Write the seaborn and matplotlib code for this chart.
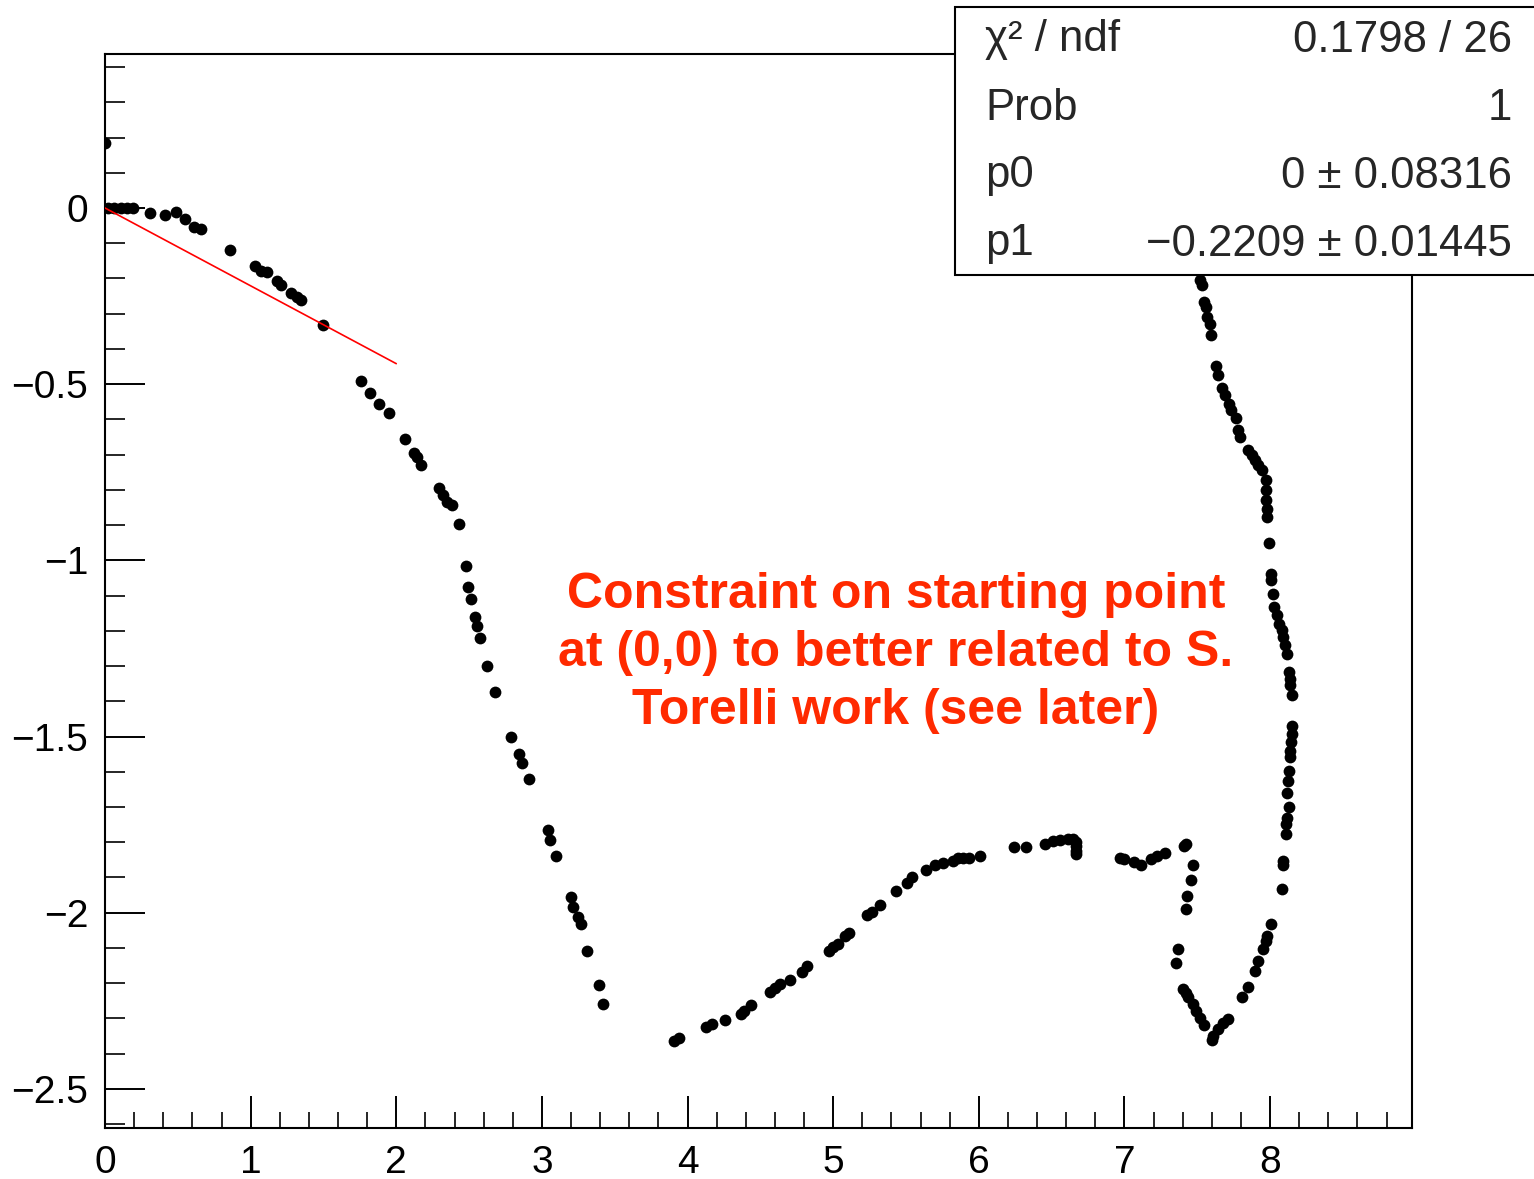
import numpy as np
import pandas as pd
import matplotlib
matplotlib.use("Agg")
import matplotlib.pyplot as plt
from matplotlib.patches import Rectangle
from matplotlib.ticker import MultipleLocator, FixedLocator, FixedFormatter
import seaborn as sns

# ---------------- data ----------------
x_vals = [0.0, 0.02, 0.06, 0.11, 0.15, 0.195, 0.31, 0.41, 0.485, 0.55, 0.61, 0.66, 0.855,
          1.03, 1.07, 1.11, 1.18, 1.21, 1.28, 1.32, 1.345, 1.5,
          1.756, 1.82, 1.884, 1.948, 2.06, 2.12, 2.145, 2.17, 2.296, 2.323, 2.35, 2.385, 2.43,
          2.477, 2.49, 2.51, 2.54, 2.557, 2.576, 2.62, 2.68,
          2.79, 2.846, 2.862, 2.912, 3.04, 3.056, 3.10, 3.20, 3.216, 3.246, 3.267, 3.313, 3.393, 3.42,
          3.91, 3.94, 4.13, 4.167, 4.26, 4.37, 4.39, 4.437,
          4.567, 4.60, 4.636, 4.705, 4.785, 4.82, 4.97, 5.0, 5.036, 5.08, 5.11, 5.23, 5.265, 5.32,
          5.43, 5.506, 5.54, 5.64, 5.70, 5.753, 5.826, 5.86, 5.895, 5.936, 6.01, 6.245, 6.325,
          6.456, 6.513, 6.56, 6.616, 6.65, 6.67, 6.67, 6.67, 6.665,
          6.97, 7.0, 7.063, 7.115, 7.18, 7.227, 7.28, 7.406, 7.424, 7.47, 7.456, 7.433, 7.42,
          7.37, 7.355, 7.4, 7.42, 7.44, 7.47, 7.49, 7.52, 7.55, 7.6, 7.61, 7.64, 7.68, 7.71,
          7.81, 7.85, 7.90, 7.92, 7.95, 7.97, 7.98, 8.01, 8.08, 8.09, 8.09, 8.11, 8.11, 8.12, 8.13,
          8.12, 8.125, 8.127, 8.138, 8.137, 8.145, 8.15, 8.15, 8.15, 8.14, 8.135, 8.13, 8.12,
          8.105, 8.09, 8.08, 8.06, 8.05, 8.03, 8.02, 8.01, 8.01, 7.996, 7.98, 7.98, 7.975, 7.975,
          7.97, 7.945, 7.92, 7.898, 7.876, 7.852, 7.795, 7.777, 7.767, 7.73, 7.715, 7.69, 7.67,
          7.646, 7.63, 7.594, 7.585, 7.57, 7.56, 7.545, 7.53, 7.52]
y_vals = [0.185, 0.0, 0.0, 0.0, 0.0, 0.0, -0.013, -0.02, -0.012, -0.032, -0.053, -0.06, -0.12,
          -0.165, -0.178, -0.181, -0.207, -0.219, -0.24, -0.252, -0.26, -0.332,
          -0.49, -0.525, -0.557, -0.583, -0.657, -0.695, -0.708, -0.73, -0.796, -0.815, -0.834, -0.844, -0.896,
          -1.016, -1.076, -1.109, -1.161, -1.187, -1.22, -1.30, -1.375,
          -1.5, -1.551, -1.575, -1.62, -1.765, -1.793, -1.838, -1.956, -1.985, -2.011, -2.032, -2.11, -2.205, -2.258,
          -2.364, -2.356, -2.324, -2.316, -2.304, -2.288, -2.278, -2.262,
          -2.224, -2.215, -2.203, -2.19, -2.167, -2.15, -2.11, -2.097, -2.09, -2.065, -2.058, -2.006, -1.997, -1.978,
          -1.937, -1.916, -1.90, -1.879, -1.865, -1.859, -1.852, -1.846, -1.845, -1.846, -1.838, -1.813, -1.813,
          -1.805, -1.797, -1.795, -1.79, -1.792, -1.80, -1.81, -1.824, -1.833,
          -1.846, -1.848, -1.857, -1.866, -1.848, -1.838, -1.831, -1.81, -1.805, -1.864, -1.906, -1.952, -1.99,
          -2.103, -2.144, -2.217, -2.229, -2.24, -2.259, -2.278, -2.3, -2.32, -2.36, -2.35, -2.33, -2.314, -2.302,
          -2.239, -2.212, -2.165, -2.136, -2.103, -2.08, -2.065, -2.032, -1.933, -1.866, -1.852, -1.778, -1.748, -1.731, -1.699,
          -1.66, -1.625, -1.597, -1.559, -1.54, -1.515, -1.492, -1.469, -1.383, -1.355, -1.336, -1.317, -1.265,
          -1.241, -1.218, -1.199, -1.18, -1.156, -1.133, -1.095, -1.057, -1.038, -0.951, -0.877, -0.853, -0.83, -0.80,
          -0.773, -0.744, -0.73, -0.716, -0.702, -0.686, -0.65, -0.629, -0.597, -0.572, -0.555, -0.531, -0.512,
          -0.474, -0.449, -0.361, -0.328, -0.309, -0.28, -0.266, -0.219, -0.205]

# fit parameters (pol1) and fit range
p0 = 0.0
p1 = -0.2209
fit_x = [0.0, 2.0]

x_ticks = [0, 1, 2, 3, 4, 5, 6, 7, 8]
x_tick_labels = ["0", "1", "2", "3", "4", "5", "6", "7", "8"]
y_ticks = [-2.5, -2.0, -1.5, -1.0, -0.5, 0.0]
y_tick_labels = ["\u22122.5", "\u22122", "\u22121.5", "\u22121", "\u22120.5", "0"]

stats_labels = ["\u03c7\u00b2 / ndf", "Prob", "p0", "p1"]
stats_values = ["0.1798 / 26", "1", "0 \u00b1 0.08316", "\u22120.2209 \u00b1 0.01445"]

note_text = "Constraint on starting point\nat (0,0) to better related to S.\nTorelli work (see later)"

# ---------------- plot ----------------
sns.set_theme(style="ticks")
plt.rcParams["font.family"] = ["Liberation Sans", "DejaVu Sans"]

fig = plt.figure(figsize=(15.34, 11.79), dpi=100)
ax = fig.add_axes([105 / 1534, 1 - 1128 / 1179, (1412 - 105) / 1534, (1128 - 54) / 1179])

df = pd.DataFrame({"x": x_vals, "y": y_vals})
sns.scatterplot(data=df, x="x", y="y", color="black", s=72, linewidth=0, ax=ax, zorder=3)

fit_df = pd.DataFrame({"x": fit_x, "y": [p0 + p1 * v for v in fit_x]})
sns.lineplot(data=fit_df, x="x", y="y", color="#ff0000", linewidth=1.2, ax=ax, zorder=4)

ax.set_xlim(0, 8.975)
ax.set_ylim(-2.611, 0.437)
ax.set_xlabel("")
ax.set_ylabel("")

ax.xaxis.set_major_locator(FixedLocator(x_ticks))
ax.xaxis.set_major_formatter(FixedFormatter(x_tick_labels))
ax.xaxis.set_minor_locator(MultipleLocator(0.2))
ax.yaxis.set_major_locator(FixedLocator(y_ticks))
ax.yaxis.set_major_formatter(FixedFormatter(y_tick_labels))
ax.yaxis.set_minor_locator(MultipleLocator(0.1))

ax.tick_params(axis="x", which="major", direction="in", length=23, width=1.4,
               labelsize=28, pad=12, top=False, colors="black")
ax.tick_params(axis="x", which="minor", direction="in", length=11.5, width=1.4, top=False)
ax.tick_params(axis="y", which="major", direction="in", length=28.8, width=1.4,
               labelsize=28, pad=12, right=False, colors="black")
ax.tick_params(axis="y", which="minor", direction="in", length=14.4, width=1.4, right=False)
for sp in ax.spines.values():
    sp.set_visible(True)
    sp.set_linewidth(1.5)
    sp.set_color("black")

# annotation
ax.text(896 / 1534, 1 - 653 / 1179, note_text, transform=fig.transFigure, ha="center", va="center",
        fontsize=36, fontweight="bold", color="#ff2a00", linespacing=1.33)

# stats box
box = Rectangle((955 / 1534, 1 - 275 / 1179), 0.5, (275 - 7) / 1179,
                transform=fig.transFigure, facecolor="white", edgecolor="black",
                linewidth=1.5, zorder=10)
fig.add_artist(box)
row_y = [40, 108, 176, 244]
for lab, val, yy in zip(stats_labels, stats_values, row_y):
    fig.text(985 / 1534, 1 - yy / 1179, lab, ha="left", va="center", fontsize=31.5, zorder=11)
    fig.text(1512 / 1534, 1 - yy / 1179, val, ha="right", va="center", fontsize=31.5, zorder=11)

fig.savefig("out.png", dpi=100)
